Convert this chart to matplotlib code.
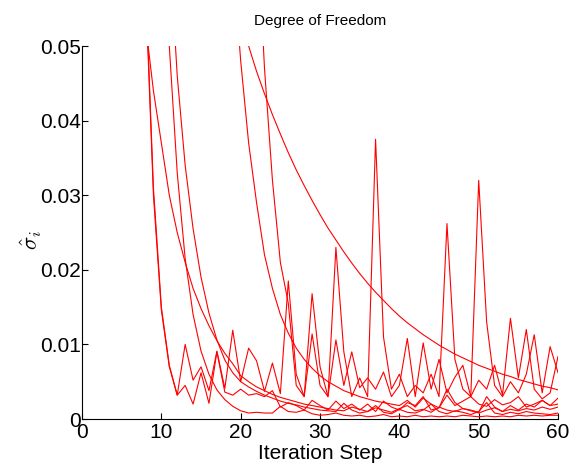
import numpy as np
import matplotlib
matplotlib.use("Agg")
import matplotlib.pyplot as plt

plt.rcParams['font.family'] = ['Liberation Sans', 'DejaVu Sans']
plt.rcParams['mathtext.fontset'] = 'cm'

# Estimated sigma per parameter over iteration steps: (first step, values)
s1_start = 7
s1 = [0.080, 0.058, 0.030, 0.0146, 0.0070, 0.0032, 0.0100, 0.0052, 0.0070, 0.0038,
      0.0091, 0.0041, 0.0119, 0.0050, 0.0095, 0.0078, 0.0037, 0.0075, 0.0034, 0.0185,
      0.0060, 0.0030, 0.0168, 0.0070, 0.0030, 0.0106, 0.0045, 0.0090, 0.0042, 0.0055,
      0.0040, 0.0063, 0.0030, 0.0045, 0.0108, 0.0030, 0.0102, 0.0040, 0.0080, 0.0035,
      0.0056, 0.0072, 0.0030, 0.0052, 0.0040, 0.0072, 0.0032, 0.0135, 0.0055, 0.0120,
      0.0040, 0.0027, 0.0035, 0.0084]

s2_start = 7
s2 = [0.082, 0.059, 0.031, 0.0150, 0.0072, 0.0032, 0.0045, 0.0020, 0.0062, 0.0021,
      0.0090, 0.0036, 0.0032, 0.0040, 0.0032, 0.0034, 0.0030, 0.0038, 0.0016, 0.0022,
      0.0018, 0.0012, 0.0025, 0.0018, 0.0012, 0.0024, 0.0014, 0.0020, 0.0012, 0.0020,
      0.0010, 0.0024, 0.0016, 0.0012, 0.0022, 0.0018, 0.0030, 0.0012, 0.0015, 0.0040,
      0.0022, 0.0014, 0.0012, 0.0009, 0.0030, 0.0016, 0.0010, 0.0018, 0.0012, 0.0020,
      0.0016, 0.0025, 0.0018, 0.0028]

b_start = 7
b = [0.066, 0.053, 0.044, 0.037, 0.030, 0.025, 0.021, 0.0175, 0.0148, 0.0125,
     0.0105, 0.0088, 0.0074, 0.0058, 0.0050, 0.0043, 0.0038, 0.0033, 0.0029, 0.0026,
     0.0023, 0.0020, 0.0018, 0.0016, 0.0014, 0.0012, 0.0011, 0.0016, 0.0013, 0.0010,
     0.0015, 0.0012, 0.0009, 0.0014, 0.0018, 0.0011, 0.0013, 0.0009, 0.0016, 0.0012,
     0.0010, 0.0014, 0.0011, 0.0008, 0.0012, 0.0015, 0.0010, 0.0013, 0.0011, 0.0014,
     0.0012, 0.0016, 0.0013, 0.0016]

c_start = 10
c = [0.075, 0.050, 0.033, 0.0215, 0.0140, 0.0091, 0.0060, 0.0039, 0.0026, 0.0017,
     0.0011, 0.0008, 0.0009, 0.0008, 0.0008, 0.0017, 0.0010, 0.0009, 0.0012, 0.0007,
     0.0005, 0.0006, 0.0008, 0.0005, 0.0004, 0.0005, 0.0003, 0.0004, 0.0006, 0.0003,
     0.0004, 0.0003, 0.0005, 0.0003, 0.0004, 0.0003, 0.0004, 0.0003, 0.0005, 0.0004,
     0.0003, 0.0004, 0.0003, 0.0004, 0.0003, 0.0005, 0.0004, 0.0005, 0.0004, 0.0005,
     0.0005]

d_start = 11
d = [0.064, 0.046, 0.034, 0.0255, 0.019, 0.0142, 0.0106, 0.0079, 0.0062, 0.0050,
     0.0043, 0.0037, 0.0032, 0.0028, 0.0024, 0.0021, 0.0019, 0.0016, 0.0014, 0.0012,
     0.0011, 0.0010, 0.0021, 0.0012, 0.0008, 0.0010, 0.0018, 0.0009, 0.0007, 0.0013,
     0.0009, 0.0008, 0.0012, 0.0020, 0.0010, 0.0007, 0.0011, 0.0009, 0.0006, 0.0010,
     0.0022, 0.0008, 0.0006, 0.0009, 0.0007, 0.0010, 0.0008, 0.0007, 0.0006, 0.0008]

e_start = 19
e = [0.062, 0.048, 0.037, 0.029, 0.022, 0.0175, 0.0140, 0.0115, 0.0095, 0.0080,
     0.0068, 0.0058, 0.0050, 0.0044, 0.0038, 0.0034, 0.0030, 0.0027, 0.0024, 0.0022,
     0.0020, 0.0018, 0.0025, 0.0016, 0.0028, 0.0020, 0.0015, 0.0032, 0.0018, 0.0024,
     0.0030, 0.0020, 0.0017, 0.0026, 0.0019, 0.0022, 0.0030, 0.0016, 0.0020, 0.0025,
     0.0018, 0.0020]

f_start = 20
f = [0.0540, 0.0500, 0.0466, 0.0436, 0.0408, 0.0382, 0.0357, 0.0334, 0.0313, 0.0293,
     0.0274, 0.0256, 0.0240, 0.0224, 0.0209, 0.0195, 0.0182, 0.0170, 0.0159, 0.0148,
     0.0138, 0.0129, 0.0121, 0.0113, 0.0106, 0.0099, 0.0093, 0.0087, 0.0082, 0.0077,
     0.0072, 0.0068, 0.0064, 0.0060, 0.0057, 0.0053, 0.0050, 0.0047, 0.0044, 0.0042,
     0.0039]

g_start = 22
g = [0.068, 0.047, 0.032, 0.021, 0.0155, 0.0045, 0.0030, 0.0114, 0.0045, 0.0030,
     0.0230, 0.0090, 0.0030, 0.0055, 0.0030, 0.0375, 0.0110, 0.0040, 0.0060, 0.0030,
     0.0045, 0.0035, 0.0060, 0.0030, 0.0262, 0.0080, 0.0040, 0.0030, 0.0320, 0.0130,
     0.0045, 0.0030, 0.0050, 0.0035, 0.0060, 0.0113, 0.0035, 0.0097, 0.0062]

series = [(s1_start, s1), (s2_start, s2), (b_start, b), (c_start, c),
          (d_start, d), (e_start, e), (f_start, f), (g_start, g)]

x_ticks = [0, 10, 20, 30, 40, 50, 60]
y_ticks = [0, 0.01, 0.02, 0.03, 0.04, 0.05]
y_tick_labels = ["0", "0.01", "0.02", "0.03", "0.04", "0.05"]

fig = plt.figure(figsize=(5.72, 4.68), dpi=100)
ax = fig.add_axes([0.1434, 0.1047, 0.8322, 0.797])

for start, vals in series:
    steps = np.arange(start, start + len(vals))
    ax.plot(steps, vals, color="#ff0000", lw=0.8)

ax.set_xlim(0, 60)
ax.set_ylim(0, 0.05)
ax.set_xticks(x_ticks)
ax.set_yticks(y_ticks)
ax.set_yticklabels(y_tick_labels)
ax.spines["top"].set_visible(False)
ax.spines["right"].set_visible(False)
for sp in ("left", "bottom"):
    ax.spines[sp].set_linewidth(0.8)
ax.tick_params(direction="in", length=4, width=0.8, labelsize=15)
ax.tick_params(axis="y", pad=1)
ax.tick_params(axis="x", pad=3)

ax.set_title("Degree of Freedom", fontsize=11, pad=15)
ax.set_xlabel("Iteration Step", fontsize=15, labelpad=1)
ax.set_ylabel(r"$\hat{\sigma}_i$", fontsize=16, labelpad=1)
ax.yaxis.set_label_coords(-0.08, 0.48)

fig.savefig("out.png", dpi=100)
